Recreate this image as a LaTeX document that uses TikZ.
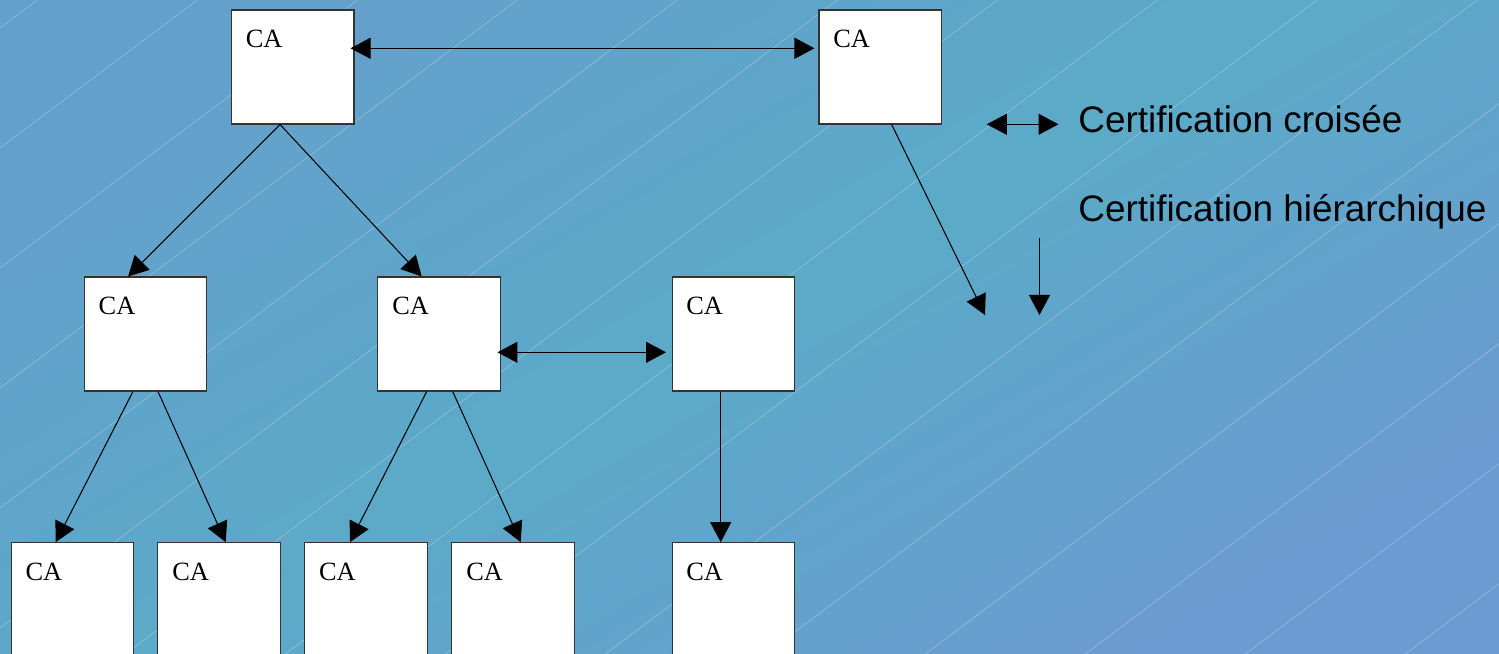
\documentclass[tikz,border=0pt]{standalone}
\usepackage{fontspec}
\setmainfont{Liberation Serif}
\newfontfamily\legendfont{Liberation Sans}
\usetikzlibrary{arrows.meta}
\definecolor{bgblue}{RGB}{100,160,204}
\definecolor{bgcyan}{RGB}{91,170,200}
\definecolor{bgblue2}{RGB}{107,155,208}

\begin{document}
\begin{tikzpicture}[
                    ca/.style={draw=black!80, fill=white, line width=0.6pt, inner sep=0,
                               minimum width=2.45cm, minimum height=2.28cm,
                               label={[anchor=base west, inner sep=0, xshift=0.29cm, yshift=-0.76cm,
                                       font=\fontsize{15}{18}\selectfont]north west:CA}},
                    hier/.style={-{Triangle[length=0.4cm, width=0.42cm]}, line width=0.6pt},
                    cross/.style={{Triangle[length=0.4cm, width=0.42cm]}-{Triangle[length=0.4cm, width=0.42cm]}, line width=0.6pt},
                    legend/.style={anchor=base west, inner sep=0, font=\legendfont\fontsize{21}{25}\selectfont}]
                \useasboundingbox (0,0) rectangle (29.98,13.08);
                \shade [left color=bgblue, right color=bgblue2, middle color=bgcyan, shading angle=30.2]
                    (0,0) rectangle (29.98,13.08);
                \begin{scope}
                    \clip (0,0) rectangle (29.98,13.08);
                    \foreach \k in {0,...,15}
                        \draw [white, opacity=0.3, line width=0.35pt]
                            (-0.2,{(618.5-120*\k)*0.02}) -- (30.2,{(1758.5-120*\k)*0.02});
                \end{scope}

                \node [ca] (r1) at (5.855,11.74) {};
                \node [ca] (r2) at (17.605,11.74) {};
                \node [ca] (m1) at (2.912,6.40) {};
                \node [ca] (m2) at (8.784,6.40) {};
                \node [ca] (m3) at (14.666,6.40) {};
                \node [ca] (l1) at (1.45,1.086) {};
                \node [ca] (l2) at (4.384,1.086) {};
                \node [ca] (l3) at (7.32,1.086) {};
                \node [ca] (l4) at (10.264,1.086) {};
                \node [ca] (l5) at (14.666,1.086) {};

                \coordinate (free) at (19.7,6.78);
                \coordinate (crossL) at (19.736,10.594);
                \coordinate (crossR) at (21.17,10.594);
                \coordinate (hierT) at (20.79,8.32);
                \coordinate (hierB) at (20.79,6.78);
                \node [legend] (crosstxt) at (21.56,10.42) {Certification croisée};
                \node [legend] (hiertxt) at (21.56,8.64) {Certification hiérarchique};

                \draw [cross] ([xshift=-0.08cm, yshift=0.374cm]r1.east) -- ([xshift=-0.08cm, yshift=0.374cm]r2.west);
                \draw [cross] ([xshift=-0.07cm, yshift=-0.366cm]m2.east) -- ([xshift=-0.11cm, yshift=-0.366cm]m3.west);
                \draw [hier] ([xshift=-0.254cm]r1.south) -- ([xshift=-0.35cm]m1.north);
                \draw [hier] ([xshift=-0.254cm]r1.south) -- ([xshift=-0.35cm]m2.north);
                \draw [hier] ([xshift=0.228cm]r2.south) -- (free);
                \draw [hier] ([xshift=-0.252cm]m1.south) -- ([xshift=-0.336cm]l1.north);
                \draw [hier] ([xshift=0.248cm]m1.south) -- ([xshift=0.13cm]l2.north);
                \draw [hier] ([xshift=-0.25cm]m2.south) -- ([xshift=-0.32cm]l3.north);
                \draw [hier] ([xshift=0.27cm]m2.south) -- ([xshift=0.15cm]l4.north);
                \draw [hier] ([xshift=-0.252cm]m3.south) -- ([xshift=-0.252cm]l5.north);
                \draw [cross] (crossL) -- (crossR);
                \draw [hier] (hierT) -- (hierB);
            \end{tikzpicture}
\end{document}
